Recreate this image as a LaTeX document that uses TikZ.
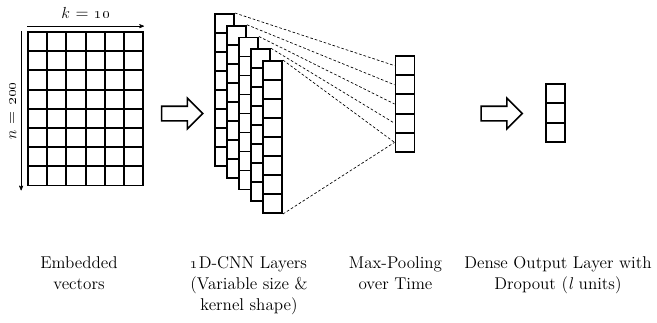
\documentclass[tikz,border=0pt]{standalone}
\usepackage{amsmath}
\usepackage{tikz}
\usetikzlibrary{positioning,arrows,shapes.arrows}

\begin{document}
\begin{tikzpicture}[x=0.75pt,y=-0.75pt,>=stealth',
	cell/.style={draw,fill=white,line width=1.4pt,minimum size=14.3pt,inner sep=0pt},
	flow/.style={single arrow,draw,line width=1.2pt,minimum height=30.75pt,minimum width=21.75pt,
		single arrow head extend=6pt,inner xsep=0pt,inner ysep=4.875pt},
	link/.style={dash pattern=on 2pt off 1.5pt,line width=0.5pt},
	caption/.style={align=center,anchor=north,inner sep=0pt,font=\fontsize{12.8}{16}\selectfont}]
	\useasboundingbox (0,0) rectangle (657,322);
	% embedded vectors
	\foreach \i in {1,...,6}
		\foreach \j in {1,...,8}
			\node[cell] (e\i-\j) at (18.4+19.2*\i,22.4+19.2*\j) {};
	\draw[->] ([yshift=3.75pt]e1-1.north west) -- node[above=2pt,font=\fontsize{12.8}{16}\selectfont] (k) {$k$ = \oldstylenums{10}} ([yshift=3.75pt]e6-1.north east);
	\draw[->] ([xshift=-4.5pt]e1-1.north west) -- node[rotate=90,anchor=south,font=\fontsize{12.8}{16}\selectfont] (n) {$n$ = \oldstylenums{200}} ([xshift=-4.5pt,yshift=-3pt]e1-8.south west);

	\node[flow] (a1) at (178.5,113.5) {};

	% convolution layers
	\foreach \l in {1,...,5}
		\foreach \j in {1,...,8}
			\node[cell] (c\l-\j) at (212.5+12*\l,-7.25+11.75*\l+19*\j) {};

	% max pooling
	\foreach \j in {1,...,5}
		\node[cell] (m\j) at (405,46.4+19.2*\j) {};
	\foreach \l in {1,...,5}
		\draw[link] (c\l-1.north east) -- (m\l.west);
	\draw[link] (c5-8.south east) -- (m5.west);

	\node[flow] (a2) at (498,113.5) {};

	% dense output
	\foreach \j in {1,2,3}
		\node[cell] (d\j) at (555.5,74.35+19.3*\j) {};

	\node[caption] (t1) at (79,256) {Embedded\\vectors};
	\node[caption] (t2) at (249,256) {\oldstylenums{1}D-CNN Layers\\(Variable size \&\\kernel shape)};
	\node[caption] (t3) at (395.5,256) {Max-Pooling\\over Time};
	\node[caption] (t4) at (558,256) {Dense Output Layer with\\Dropout (\textit{l} units)};
\end{tikzpicture}
\end{document}
